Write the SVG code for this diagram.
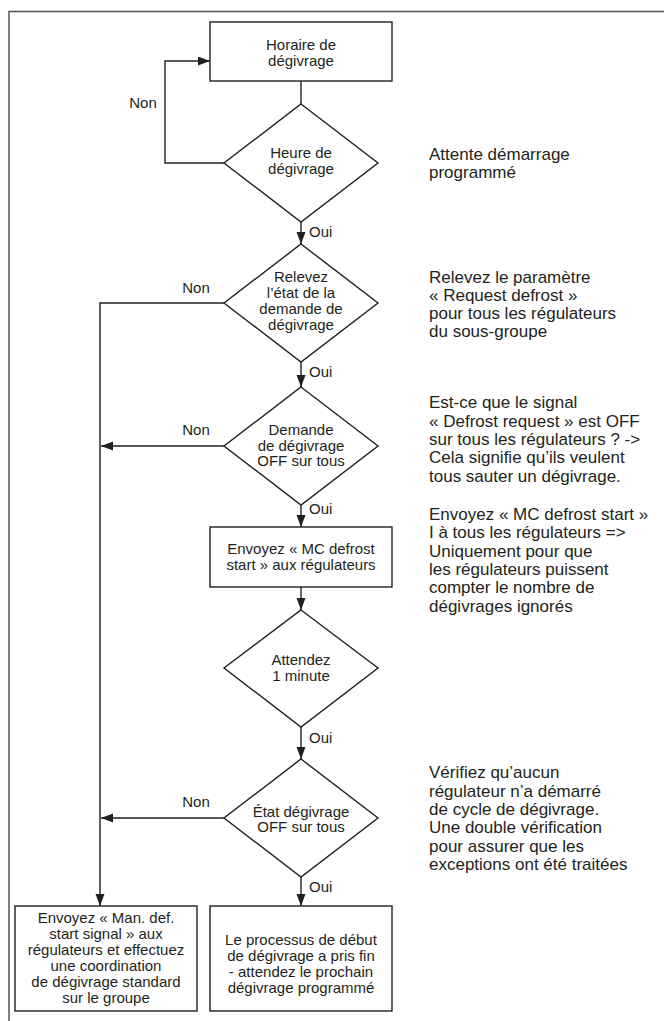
<svg xmlns="http://www.w3.org/2000/svg" width="664" height="1021" viewBox="0 0 664 1021">
<style>
.shape{fill:#fff;stroke:#231f20;stroke-width:1.4}
.ln{fill:none;stroke:#231f20;stroke-width:1.4}
.frame{fill:none;stroke:#555;stroke-width:1.5}
text{font-family:"Liberation Sans",Arial,sans-serif;fill:#231f20}
.n{font-size:15px;text-anchor:middle}
.l{font-size:15px;text-anchor:middle}
.o{font-size:15px}
.r{font-size:17px}
</style>
<defs>
<marker id="ah" markerUnits="userSpaceOnUse" markerWidth="12" markerHeight="10" refX="12" refY="4.5" orient="auto">
<path d="M0,0 L12,4.5 L0,9 z" fill="#231f20"/>
</marker>
</defs>
<path class="frame" d="M9,1021 V11.5 H664"/>
<g id="connectors">
<path class="ln" d="M301,81 V104"/>
<path class="ln" d="M224,163 H165 V61 H210" marker-end="url(#ah)"/>
<path class="ln" d="M301,222 V244" marker-end="url(#ah)"/>
<path class="ln" d="M224,303 H100 V906" marker-end="url(#ah)"/>
<path class="ln" d="M301,362 V387" marker-end="url(#ah)"/>
<path class="ln" d="M224,446 H101" marker-end="url(#ah)"/>
<path class="ln" d="M301,505 V527" marker-end="url(#ah)"/>
<path class="ln" d="M301,587 V610" marker-end="url(#ah)"/>
<path class="ln" d="M301,727 V759" marker-end="url(#ah)"/>
<path class="ln" d="M224,818 H101" marker-end="url(#ah)"/>
<path class="ln" d="M301,877 V906" marker-end="url(#ah)"/>
<text class="l" x="143" y="108">Non</text>
<text class="l" x="196" y="293">Non</text>
<text class="l" x="196" y="435">Non</text>
<text class="l" x="196" y="807">Non</text>
<text class="o" x="309" y="237">Oui</text>
<text class="o" x="309" y="377">Oui</text>
<text class="o" x="309" y="514">Oui</text>
<text class="o" x="309" y="743">Oui</text>
<text class="o" x="309" y="892">Oui</text>
</g>
<g id="n1">
<rect class="shape" x="210" y="22" width="182" height="59"/>
<text class="n" x="301" y="50">Horaire de</text>
<text class="n" x="301" y="66">dégivrage</text>
</g>
<g id="n2">
<polygon class="shape" points="301,104 378,163 301,222 224,163"/>
<text class="n" x="301" y="158">Heure de</text>
<text class="n" x="301" y="174">dégivrage</text>
</g>
<g id="n3">
<polygon class="shape" points="301,244 378,303 301,362 224,303"/>
<text class="n" x="301" y="282">Relevez</text>
<text class="n" x="301" y="298">l’état de la</text>
<text class="n" x="301" y="314">demande de</text>
<text class="n" x="301" y="330">dégivrage</text>
</g>
<g id="n4">
<polygon class="shape" points="301,387 378,446 301,505 224,446"/>
<text class="n" x="301" y="435">Demande</text>
<text class="n" x="301" y="451">de dégivrage</text>
<text class="n" x="301" y="466">OFF sur tous</text>
</g>
<g id="n5">
<rect class="shape" x="210" y="527" width="182" height="60"/>
<text class="n" x="301" y="554">Envoyez « MC defrost</text>
<text class="n" x="301" y="570">start » aux régulateurs</text>
</g>
<g id="n6">
<polygon class="shape" points="301,610 378,668 301,727 224,668"/>
<text class="n" x="301" y="665">Attendez</text>
<text class="n" x="301" y="681">1 minute</text>
</g>
<g id="n7">
<polygon class="shape" points="301,759 378,818 301,877 224,818"/>
<text class="n" x="301" y="817">État dégivrage</text>
<text class="n" x="301" y="832">OFF sur tous</text>
</g>
<g id="n8">
<rect class="shape" x="15" y="906" width="182" height="105"/>
<text class="n" x="106" y="923">Envoyez « Man. def.</text>
<text class="n" x="106" y="939">start signal » aux</text>
<text class="n" x="106" y="955">régulateurs et effectuez</text>
<text class="n" x="106" y="971">une coordination</text>
<text class="n" x="106" y="987">de dégivrage standard</text>
<text class="n" x="106" y="1003">sur le groupe</text>
</g>
<g id="n9">
<rect class="shape" x="210" y="906" width="182" height="105"/>
<text class="n" x="301" y="945">Le processus de début</text>
<text class="n" x="301" y="961">de dégivrage a pris fin</text>
<text class="n" x="301" y="977">- attendez le prochain</text>
<text class="n" x="301" y="993">dégivrage programmé</text>
</g>
<g id="notes">
<text class="r" x="429" y="160">Attente démarrage</text>
<text class="r" x="429" y="178">programmé</text>
<text class="r" x="429" y="283">Relevez le paramètre</text>
<text class="r" x="429" y="301">« Request defrost »</text>
<text class="r" x="429" y="319">pour tous les régulateurs</text>
<text class="r" x="429" y="337">du sous-groupe</text>
<text class="r" x="429" y="408">Est-ce que le signal</text>
<text class="r" x="429" y="427">« Defrost request » est OFF</text>
<text class="r" x="429" y="445">sur tous les régulateurs ? -&gt;</text>
<text class="r" x="429" y="463">Cela signifie qu’ils veulent</text>
<text class="r" x="429" y="482">tous sauter un dégivrage.</text>
<text class="r" x="429" y="520">Envoyez « MC defrost start »</text>
<text class="r" x="429" y="538">I à tous les régulateurs =&gt;</text>
<text class="r" x="429" y="557">Uniquement pour que</text>
<text class="r" x="429" y="575">les régulateurs puissent</text>
<text class="r" x="429" y="593">compter le nombre de</text>
<text class="r" x="429" y="612">dégivrages ignorés</text>
<text class="r" x="429" y="778">Vérifiez qu’aucun</text>
<text class="r" x="429" y="797">régulateur n’a démarré</text>
<text class="r" x="429" y="815">de cycle de dégivrage.</text>
<text class="r" x="429" y="833">Une double vérification</text>
<text class="r" x="429" y="852">pour assurer que les</text>
<text class="r" x="429" y="870">exceptions ont été traitées</text>
</g>
</svg>
